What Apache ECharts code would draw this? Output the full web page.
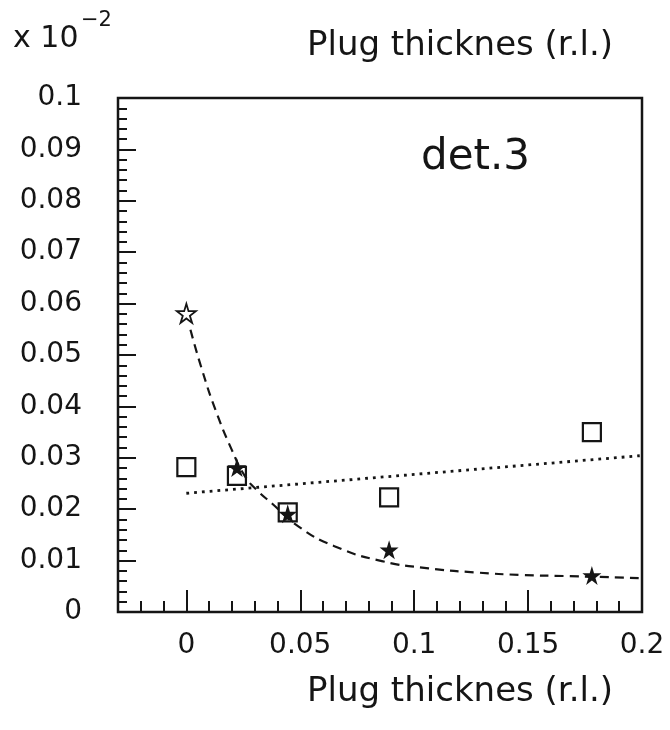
<!DOCTYPE html>
<html>
<head>
<meta charset="utf-8">
<script src="https://cdn.jsdelivr.net/npm/echarts@6/dist/echarts.min.js"></script>
<style>
  html, body { margin: 0; padding: 0; background: #fff; }
  #chart { width: 670px; height: 730px; }
</style>
</head>
<body>
<div id="chart"></div>
<script>
// 数据
const squareX = [0, 0.0222, 0.0445, 0.089, 0.178];
const squareY = [0.0282, 0.0265, 0.0194, 0.0223, 0.035];
const starX = [0, 0.0222, 0.0445, 0.089, 0.178];
const starY = [0.0581, 0.0281, 0.0191, 0.0121, 0.0071];
// dashed fit curve
const fitX = [0.0018, 0.0069, 0.0128, 0.02, 0.0259, 0.031, 0.0376, 0.0493, 0.065, 0.0858, 0.1063, 0.1268, 0.1473, 0.1663, 0.1992];
const fitY = [0.0549, 0.0471, 0.0393, 0.0315, 0.0263, 0.0237, 0.0211, 0.0166, 0.0128, 0.0099, 0.0085, 0.0077, 0.0072, 0.007, 0.0066];
// dotted straight line
const lineX = [0, 0.199];
const lineY = [0.0231, 0.0304];

const xMin = -0.03, xMax = 0.2;
const titleText = 'Plug thicknes (r.l.)';
const ink = '#151515';
const font = 'DejaVu Sans';

const gLeft = 118, gTop = 98, gW = 524, gH = 514;
const zeroPx = gLeft + (0 - xMin) / (xMax - xMin) * gW;

const starPath = 'path://M50,0 L61,35 L98,35 L68,57 L79,91 L50,70 L21,91 L32,57 L2,35 L39,35 Z';
const zip = (xs, ys) => xs.map((x, i) => [x, ys[i]]);

const chart = echarts.init(document.getElementById('chart'));
chart.setOption({
  animation: false,
  backgroundColor: '#fff',
  title: [
    { text: titleText, left: 455, top: 24, textAlign: 'center',
      textStyle: { fontFamily: font, fontSize: 34, fontWeight: 'normal', color: ink } },
    { text: titleText, left: 455, top: 670, textAlign: 'center',
      textStyle: { fontFamily: font, fontSize: 34, fontWeight: 'normal', color: ink } },
    { text: 'det.3', left: 416, top: 132,
      textStyle: { fontFamily: font, fontSize: 42, fontWeight: 'normal', color: ink } },
    { text: 'x 10', left: 8, top: 19,
      textStyle: { fontFamily: font, fontSize: 30, fontWeight: 'normal', color: ink } },
    { text: '−2', left: 76, top: 5,
      textStyle: { fontFamily: font, fontSize: 21, fontWeight: 'normal', color: ink } }
  ],
  grid: [
    { left: gLeft, top: gTop, width: gW, height: gH, show: true,
      borderColor: ink, borderWidth: 2.5, backgroundColor: 'transparent' },
    { left: zeroPx, top: gTop, width: gLeft + gW - zeroPx, height: gH }
  ],
  xAxis: [
    { type: 'value', gridIndex: 0, min: xMin, max: xMax, interval: 0.01,
      axisLine: { show: false, onZero: false },
      axisTick: { show: true, inside: true, length: 11, lineStyle: { color: ink, width: 2 } },
      axisLabel: { show: false },
      splitLine: { show: false } },
    { type: 'value', gridIndex: 1, min: 0, max: 0.2, interval: 0.05,
      axisLine: { show: false, onZero: false },
      axisTick: { show: true, inside: true, length: 22, lineStyle: { color: ink, width: 2 } },
      axisLabel: { show: true, margin: 20, fontFamily: font, fontSize: 28, color: ink },
      splitLine: { show: false } }
  ],
  yAxis: [
    { type: 'value', gridIndex: 0, min: 0, max: 0.1, interval: 0.01,
      axisLine: { show: false, onZero: false },
      axisTick: { show: true, inside: true, length: 18, lineStyle: { color: ink, width: 2 } },
      minorTick: { show: true, splitNumber: 5, length: 9, lineStyle: { color: ink, width: 2 } },
      axisLabel: { show: true, margin: 36, fontFamily: font, fontSize: 28, color: ink },
      splitLine: { show: false } },
    { type: 'value', gridIndex: 1, min: 0, max: 0.1, show: false }
  ],
  series: [
    { type: 'line', name: 'fit', xAxisIndex: 0, yAxisIndex: 0,
      data: zip(fitX, fitY), smooth: true, showSymbol: false, symbol: 'none',
      lineStyle: { color: ink, width: 2.2, type: [9, 6] }, z: 2 },
    { type: 'line', name: 'linear', xAxisIndex: 0, yAxisIndex: 0,
      data: zip(lineX, lineY), showSymbol: false, symbol: 'none',
      lineStyle: { color: ink, width: 2.8, type: [2.8, 5] }, z: 2 },
    { type: 'scatter', name: 'squares', xAxisIndex: 0, yAxisIndex: 0,
      data: zip(squareX, squareY), symbol: 'rect', symbolSize: 18,
      itemStyle: { color: 'rgba(255,255,255,0)', borderColor: ink, borderWidth: 2.2, opacity: 1 }, z: 3 },
    { type: 'scatter', name: 'stars', xAxisIndex: 0, yAxisIndex: 0,
      data: zip(starX, starY).map((p, i) => i === 0
        ? { value: p, itemStyle: { color: '#fff', borderColor: ink, borderWidth: 1.8, opacity: 1 } }
        : p),
      symbol: starPath, symbolSize: 19,
      itemStyle: { color: ink, opacity: 1 }, z: 4 }
  ]
});
</script>
</body>
</html>
